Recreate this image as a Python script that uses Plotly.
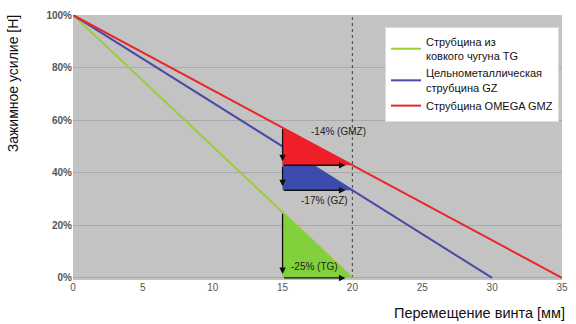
import plotly.graph_objects as go

# Data
tg_x = [0, 20]
tg_y = [100, 0]
gz_x = [0, 30]
gz_y = [100, 0]
gmz_x = [0, 35]
gmz_y = [100, 0]

names = ["Струбцина из<br>ковкого чугуна TG",
         "Цельнометаллическая<br>струбцина GZ",
         "Струбцина OMEGA GMZ"]
colors = ["#9acd3a", "#4a4aa6", "#e8262c"]
fills = ["#82d03c", "#3c4cae", "#f01e28"]

x_start, x_end = 15, 20
tg_vals = [25, 0]
gz_vals = [50, 100 / 3]
gmz_vals = [100 * 4 / 7, 300 / 7]

drop_labels = ["-25% (TG)", "-17% (GZ)", "-14% (GMZ)"]
label_pos = [(17.3, 4.5), (18.0, 29.5), (19.0, 55.5)]

x_ticks = [0, 5, 10, 15, 20, 25, 30, 35]
y_ticks = [0, 20, 40, 60, 80, 100]
y_ticktext = [f"{v}%" for v in y_ticks]

fig = go.Figure()

# dashed line at x=20
fig.add_trace(go.Scatter(x=[x_end, x_end], y=[0, 100], mode="lines",
                         line=dict(color="#555555", width=1.2, dash="dot"),
                         showlegend=False, hoverinfo="skip"))

for xs, ys, n, c in [(tg_x, tg_y, names[0], colors[0]),
                     (gz_x, gz_y, names[1], colors[1]),
                     (gmz_x, gmz_y, names[2], colors[2])]:
    fig.add_trace(go.Scatter(x=xs, y=ys, mode="lines", name=n,
                             line=dict(color=c, width=2)))

def tri(top, bot, fill):
    fig.add_trace(go.Scatter(
        x=[x_start, x_start, x_end, x_start],
        y=[top, bot, bot, top],
        fill="toself", fillcolor=fill, mode="lines",
        line=dict(width=0, color=fill), showlegend=False, hoverinfo="skip"))

tri(gz_vals[0], gz_vals[1], fills[1])
tri(gmz_vals[0], gmz_vals[1], fills[2])
tri(tg_vals[0], tg_vals[1], fills[0])

# arrows
arrow_sets = [
    (gmz_vals[0], gmz_vals[1]),
    (gmz_vals[1], gz_vals[1]),
    (tg_vals[0], tg_vals[1]),
]
anns = []
for top, bot in arrow_sets:
    anns.append(dict(x=x_start, y=bot + 1.5, ax=x_start, ay=top, xref="x", yref="y",
                     axref="x", ayref="y", showarrow=True, arrowhead=2,
                     arrowsize=1, arrowwidth=1.3, arrowcolor="#111111", text=""))
    anns.append(dict(x=x_end - 0.5, y=bot, ax=x_start, ay=bot, xref="x", yref="y",
                     axref="x", ayref="y", showarrow=True, arrowhead=2,
                     arrowsize=1, arrowwidth=1.3, arrowcolor="#111111", text=""))

for lab, (lx, ly) in zip(drop_labels, label_pos):
    anns.append(dict(x=lx, y=ly, xref="x", yref="y", text=lab, showarrow=False,
                     font=dict(size=10, color="#222222", family="Liberation Sans")))

anns.append(dict(x=-0.122, y=0.74, xref="paper", yref="paper",
                 text="Зажимное усилие [Н]", textangle=-90, showarrow=False,
                 xanchor="center", yanchor="middle",
                 font=dict(size=14, color="#111111", family="Liberation Sans")))
anns.append(dict(x=0.832, y=-0.125, xref="paper", yref="paper",
                 text="Перемещение винта [мм]", showarrow=False,
                 xanchor="center", yanchor="middle",
                 font=dict(size=14.5, color="#111111", family="Liberation Sans")))

fig.update_layout(
    width=576, height=324,
    margin=dict(l=73, r=8, t=15, b=44),
    paper_bgcolor="white", plot_bgcolor="#c3c3c3",
    annotations=anns,
    legend=dict(x=0.638, y=0.955, xanchor="left", yanchor="top",
                bgcolor="white", bordercolor="#dddddd", borderwidth=1,
                font=dict(size=11, color="#111111", family="Liberation Sans"),
                itemwidth=30),
    xaxis=dict(range=[0, 35], tickvals=x_ticks, showgrid=False, zeroline=False,
               tickfont=dict(size=10, color="#555555", family="Liberation Sans"),
               ticks="", fixedrange=True),
    yaxis=dict(range=[-0.8, 100], tickvals=y_ticks,
               ticktext=[f"<b>{t}</b>" for t in y_ticktext],
               showgrid=True, gridcolor="#a9a9a9", gridwidth=1, zeroline=False,
               tickfont=dict(size=10, color="#555555", family="Liberation Sans"),
               ticks="", fixedrange=True),
)
fig.update_xaxes(tickprefix="<b>", ticksuffix="</b>")

fig.write_html("out.html", config={"displayModeBar": False},
               post_script="document.body.style.margin='0';document.body.style.overflow='hidden';")
